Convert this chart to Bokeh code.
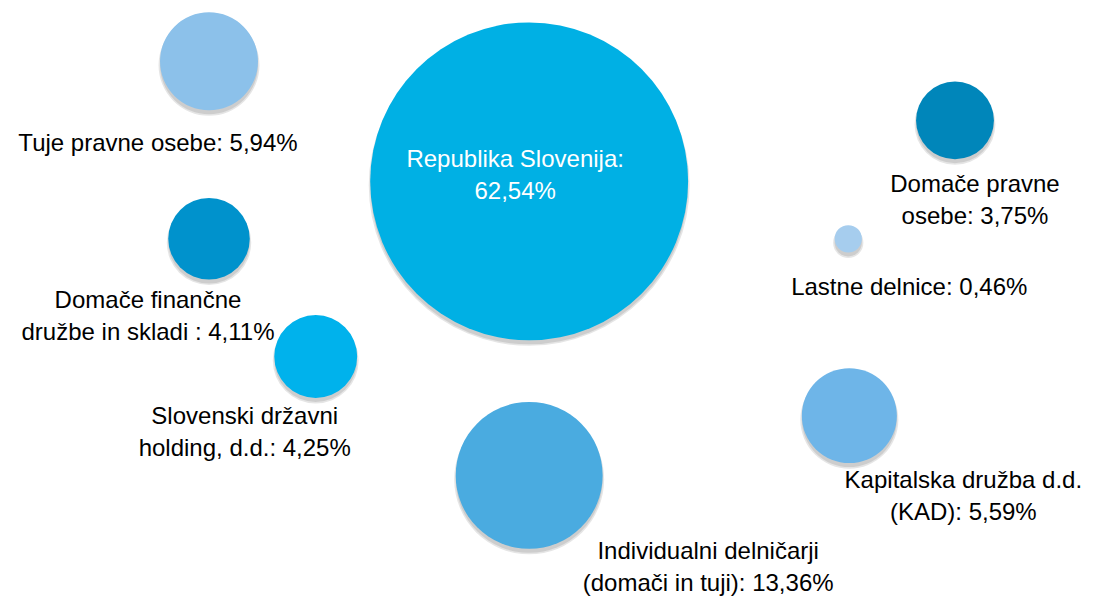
from bokeh.plotting import figure
from bokeh.models import ColumnDataSource, Range1d
from bokeh.core.properties import value
from bokeh.embed import file_html
from bokeh.resources import INLINE
import math

# ---- data ----
categories = [
    "Republika Slovenija",
    "Tuje pravne osebe",
    "Domače finančne družbe in skladi",
    "Slovenski državni holding, d.d.",
    "Individualni delničarji (domači in tuji)",
    "Kapitalska družba d.d. (KAD)",
    "Domače pravne osebe",
    "Lastne delnice",
]
shares = [62.54, 5.94, 4.11, 4.25, 13.36, 5.59, 3.75, 0.46]
x_vals = [4.83, 1.86, 1.86, 2.85, 4.83, 7.80, 8.78, 7.79]
y_vals = [7.02, 9.09, 6.03, 4.00, 1.95, 2.98, 8.07, 6.03]
labels = [
    "Republika Slovenija:\n62,54%",
    "Tuje pravne osebe: 5,94%",
    "Domače finančne\ndružbe in skladi : 4,11%",
    "Slovenski državni\nholding, d.d.: 4,25%",
    "Individualni delničarji\n(domači in tuji): 13,36%",
    "Kapitalska družba d.d.\n(KAD): 5,59%",
    "Domače pravne\nosebe: 3,75%",
    "Lastne delnice: 0,46%",
]

# ---- styles / layout ----
colors = ["#00b0e4", "#8cc1ea", "#0092cc", "#00b2ec", "#4aabe0", "#6eb5e8", "#0086ba", "#a6cdee"]
text_colors = ["white"] + ["#000000"] * 7
label_dx = [-14, -51, -61, -71, 179, 114, 20, 61]   # screen px
label_dy = [-7, 81, 77, 75, 91, 80, 79, 48]        # screen px (down)
PX_PER_SQRT = 40.2  # bubble diameter per sqrt(value), area ∝ value

W, H = 1094, 596
PX_X, PX_Y = 107.8, 58.0
sizes = [PX_PER_SQRT * math.sqrt(v) for v in shares]
shadow_dy = 4 / PX_Y

src = ColumnDataSource(dict(
    x=x_vals, y=y_vals, size=sizes, color=colors, label=labels,
    tcolor=text_colors, dx=label_dx, dy=label_dy,
    sy=[v - shadow_dy for v in y_vals], ssize=[s + 3 for s in sizes],
))

p = figure(width=W, height=H, output_backend="svg", toolbar_location=None,
           x_range=Range1d(-8 / PX_X, 10 + (W - 8 - 10 * PX_X) / PX_X),
           y_range=Range1d(10 - (H - 8) / PX_Y, 10 + 8 / PX_Y), min_border=0,
           outline_line_color=None)
p.axis.visible = False
p.grid.visible = False
p.background_fill_color = "white"
p.border_fill_color = "white"

# soft shadow
p.scatter(x="x", y="sy", size="ssize", source=src, fill_color="#000000",
          fill_alpha=0.10, line_color=None)
p.scatter(x="x", y="sy", size="size", source=src, fill_color="#000000",
          fill_alpha=0.10, line_color=None)
# bubbles
p.scatter(x="x", y="y", size="size", source=src, fill_color="color",
          line_color=None)

p.text(x="x", y="y", text="label", source=src, x_offset="dx", y_offset="dy",
       text_align="center", text_baseline="middle", text_color="tcolor",
       text_font=value("Liberation Sans"), text_font_size="24px",
       text_line_height=1.18)

open("out.html", "w").write(file_html(p, INLINE))
